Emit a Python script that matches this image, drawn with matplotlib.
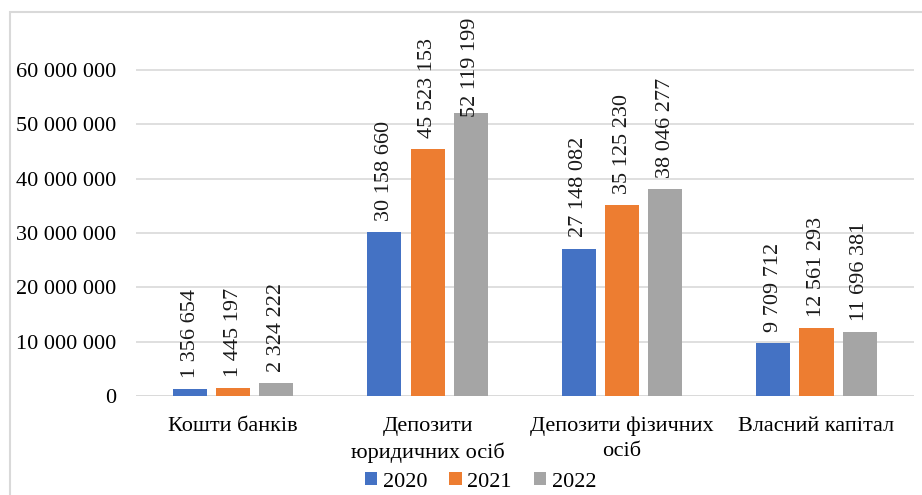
import numpy as np
import matplotlib
matplotlib.use("Agg")
import matplotlib.pyplot as plt
from matplotlib.patches import Rectangle

categories = ["Кошти банків", "Депозити\nюридичних осіб", "Депозити фізичних\nосіб", "Власний капітал"]
years = ["2020", "2021", "2022"]
v2020 = [1356654, 30158660, 27148082, 9709712]
v2021 = [1445197, 45523153, 35125230, 12561293]
v2022 = [2324222, 52119199, 38046277, 11696381]
colors = ["#4472c4", "#ed7d31", "#a5a5a5"]

plt.rcParams["font.family"] = ["Liberation Serif", "DejaVu Serif"]

fig = plt.figure(figsize=(9.22, 4.95), dpi=100)
ax = fig.add_axes([0.1475, 0.2, 0.8435, 0.768])

def fmt(v):
    return f"{v:,}".replace(",", " ")

x = np.arange(len(categories))
step = 0.222
width = 0.175
labels = []
for i, (vals, yr, c) in enumerate(zip([v2020, v2021, v2022], years, colors)):
    pos = x + (i - 1) * step
    ax.bar(pos, vals, width, color=c, label=yr, zorder=2)
    for px, v in zip(pos, vals):
        t = ax.annotate(fmt(v), (px, v), xytext=(0, 8), textcoords="offset points",
                        rotation=90, ha="center", va="bottom", fontsize=16,
                        color="#1a1a1a", zorder=3)
        labels.append(t)

ax.set_xlim(-0.5, len(categories) - 0.5)
ax.set_ylim(0, 70e6)
ax.set_yticks(np.arange(0, 60e6 + 1, 10e6))
ax.set_yticklabels([fmt(int(t)) for t in np.arange(0, 60e6 + 1, 10e6)], fontsize=16)
ax.set_xticks(x)
ax.set_xticklabels(categories, fontsize=16, linespacing=1.4)
ax.tick_params(axis="y", length=0, pad=14)
ax.tick_params(axis="x", length=0, pad=15)
ax.grid(axis="y", color="#d9d9d9", linewidth=1.2, zorder=0)
for s in ax.spines.values():
    s.set_visible(False)
ax.axhline(0, color="#d9d9d9", linewidth=1.2, zorder=1)

ax.legend(loc="lower center", bbox_to_anchor=(0.443, -0.275), ncol=3, frameon=False,
          fontsize=16, handlelength=0.55, handleheight=0.55, handletextpad=0.25,
          columnspacing=1.0, borderaxespad=0)

fig.patches.append(Rectangle((10 / 922, -0.05), 1.0, 1 - 12 / 495 + 0.05,
                             transform=fig.transFigure, fill=False,
                             edgecolor="#d9d9d9", linewidth=1.5))

# keep labels inside the chart area like Excel does
fig.canvas.draw()
r = fig.canvas.get_renderer()
top_px = fig.bbox.height - 18
for t in labels:
    bb = t.get_window_extent(r)
    if bb.y1 > top_px:
        dx, dy = t.get_position()
        t.set_position((dx, dy - (bb.y1 - top_px) * 72 / fig.dpi))

fig.savefig("out.png", dpi=100)
